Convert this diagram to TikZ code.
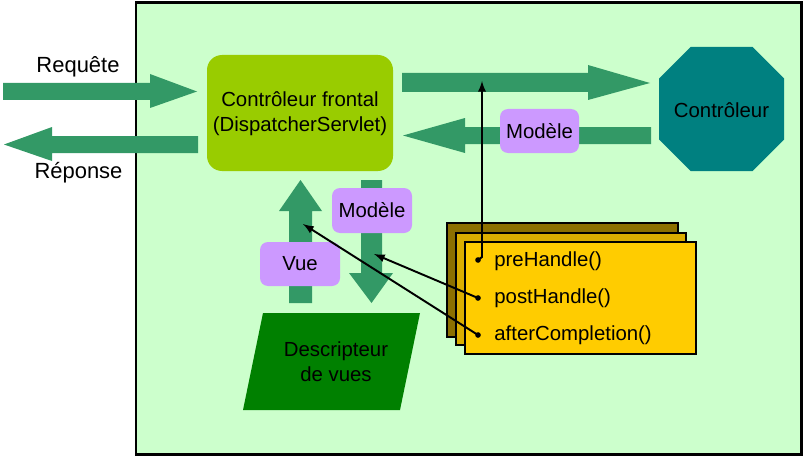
\documentclass[tikz,border=0pt]{standalone}
\usepackage{fontspec}
\setmainfont{Liberation Sans}
\definecolor{fond}{HTML}{CCFFCC}
\definecolor{flux}{HTML}{339966}
\definecolor{frontal}{HTML}{99CC00}
\definecolor{modele}{HTML}{CC99FF}
\definecolor{ctrl}{HTML}{008080}
\definecolor{vues}{HTML}{008000}
\definecolor{pile1}{HTML}{8C7000}
\definecolor{pile2}{HTML}{DBAE00}
\definecolor{pile3}{HTML}{FFCC00}
\begin{document}
\begin{tikzpicture}[x=0.02cm,y=0.02cm]
\tikzstyle{every node}+=[inner sep=0pt,font=\fontsize{11.6}{14.2}\selectfont]
\tikzstyle{label box}=[fill=modele,rounded corners=0.16cm]
\tikzstyle{interceptor}=[draw=black,line width=1.1pt]
\tikzstyle{fleche}=[black,line width=1.1pt,-latex]
\tikzstyle{grand}=[font=\fontsize{12.5}{15}\selectfont]
\useasboundingbox (0,0) rectangle (804,-456);
% cadre
\draw [black,line width=1.7pt,fill=fond] (136,-2.5) rectangle (801.5,-454.5);
% requete / reponse
\fill [flux] (3,-83) -- (150,-83) -- (150,-74) -- (197,-91.5) -- (150,-108) -- (150,-100) -- (3,-100) -- cycle;
\draw (78,-67) node [grand] (req) {Requête};
\fill [flux] (198,-136) -- (52,-136) -- (52,-127) -- (4,-144.5) -- (52,-161) -- (52,-153) -- (198,-153) -- cycle;
\draw (78.5,-172.5) node [grand] (rep) {Réponse};
% controleur frontal
\fill [frontal,rounded corners=0.3cm] (207,-55) rectangle (393,-171);
\draw (300,-114) node [align=center] (front) {Contrôleur frontal\\(DispatcherServlet)};
% vers le controleur et retour
\fill [flux] (402,-73) -- (588,-73) -- (588,-65) -- (650,-83) -- (588,-100) -- (588,-92) -- (402,-92) -- cycle;
\fill [flux] (651,-127) -- (465,-127) -- (465,-118) -- (403,-135.5) -- (465,-153) -- (465,-144) -- (651,-144) -- cycle;
\fill [label box] (500,-109) rectangle (579,-153);
\draw (539.5,-131) node (modA) {Modèle};
% controleur
\fill [ctrl] (690.5,-47) -- (752.5,-47) -- (784,-78.5) -- (784,-139.5) -- (752.5,-171) -- (690.5,-171) -- (659,-139.5) -- (659,-78.5) -- cycle;
\draw (721.5,-110) node (ctrl) {Contrôleur};
% vue et modele
\fill [flux] (289,-303) -- (289,-211) -- (279,-211) -- (300.5,-180) -- (322,-211) -- (312,-211) -- (312,-303) -- cycle;
\fill [flux] (361,-180) -- (361,-273) -- (349,-273) -- (371.5,-303) -- (393,-273) -- (382,-273) -- (382,-180) -- cycle;
\fill [label box] (332,-188) rectangle (412,-233);
\draw (372,-210.5) node (modB) {Modèle};
\fill [label box] (260,-242) rectangle (340,-286);
\draw (300,-264) node (vue) {Vue};
% descripteur de vues
\fill [vues] (263,-313) -- (420,-313) -- (400,-410) -- (243,-410) -- cycle;
\draw (336,-361.5) node [align=center] (desc) {Descripteur\\de vues};
% intercepteurs
\draw [interceptor,fill=pile1] (447,-223) rectangle (678,-337);
\draw [interceptor,fill=pile2] (456,-233) rectangle (686,-345);
\draw [interceptor,fill=pile3] (465,-242) rectangle (696,-354);
\draw (494,-261) node [anchor=west] (pre) {preHandle()};
\draw (494,-298) node [anchor=west] (post) {postHandle()};
\draw (494,-335) node [anchor=west] (after) {afterCompletion()};
\coordinate (dotA) at (478,-260);
\coordinate (dotB) at (478,-298);
\coordinate (dotC) at (478,-335);
\foreach \d in {dotA,dotB,dotC} \fill [black] (\d) circle (1.6pt);
% appels
\coordinate (hautA) at (482,-81);
\coordinate (basB) at (374,-254);
\coordinate (hautV) at (303,-224);
\draw [fleche] (dotA) -- (482,-257) -- (hautA);
\draw [fleche] (dotB) -- (basB);
\draw [fleche] (dotC) -- (hautV);
\end{tikzpicture}
\end{document}
